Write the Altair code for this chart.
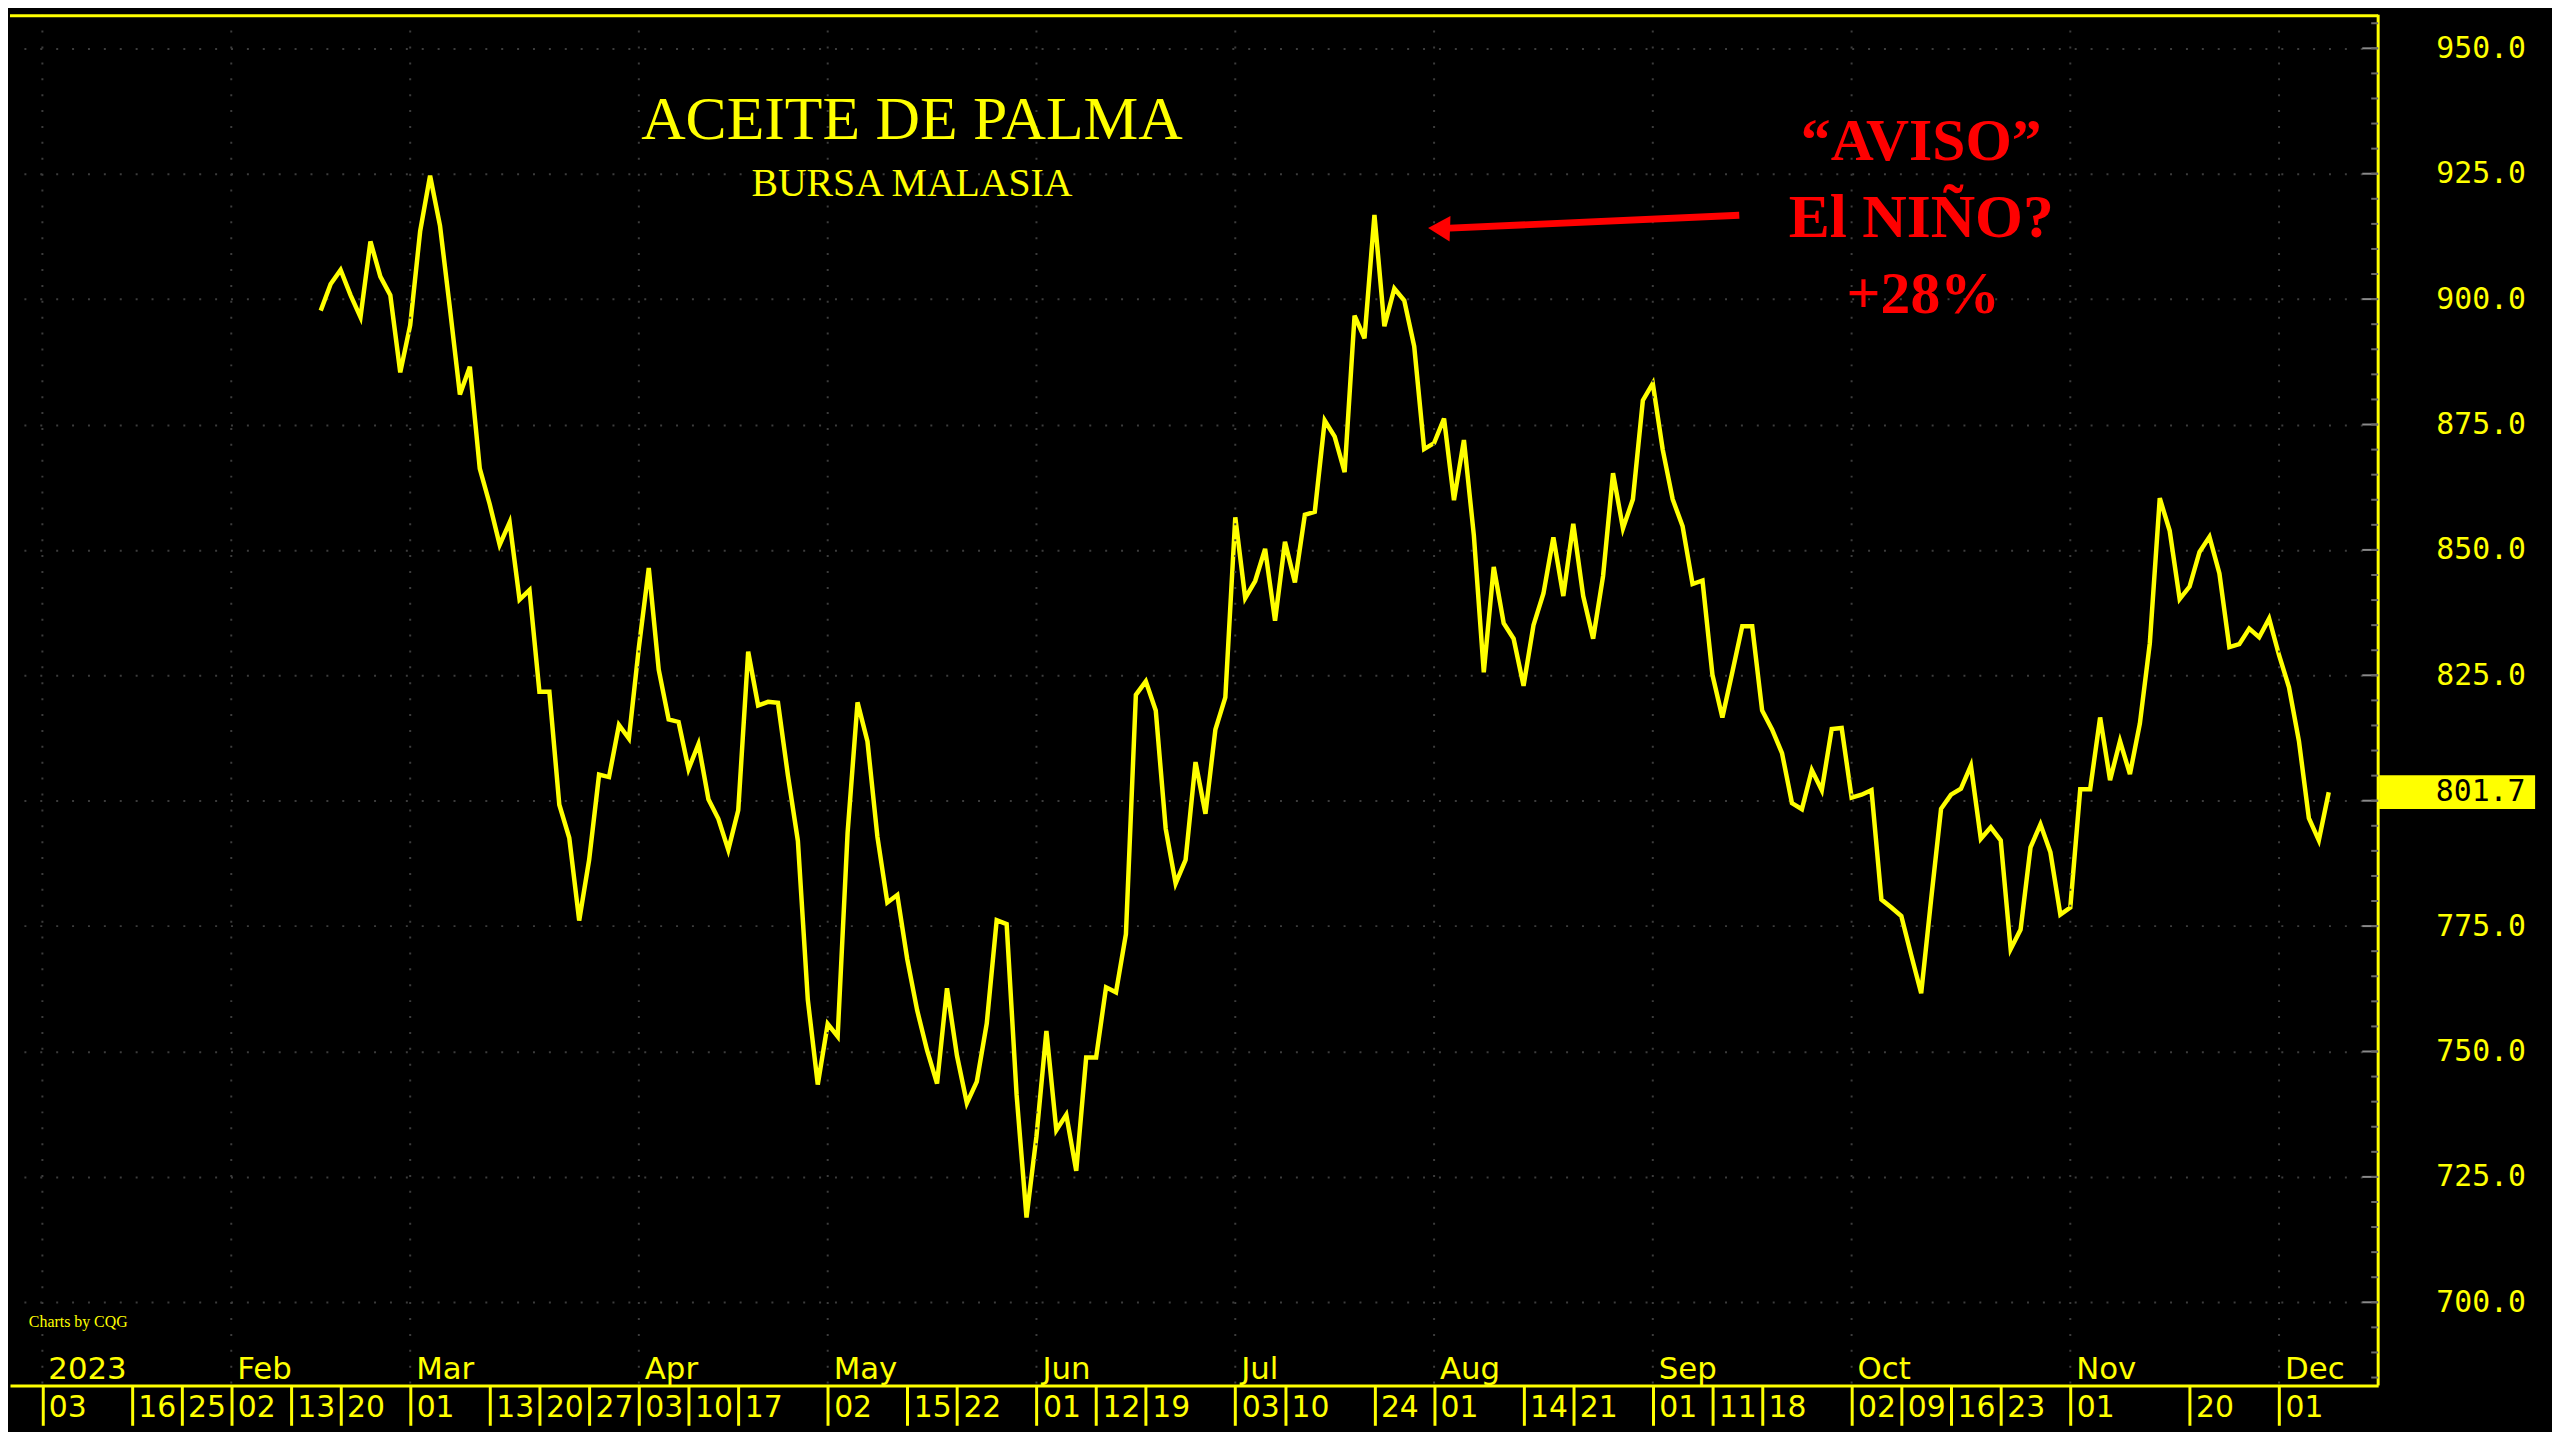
import altair as alt
import pandas as pd

# ---------------- data ----------------
# trading-day index of the first price (0 = 03 Jan 2023)
start_index = 28
prices = [
    897.7, 903.0, 905.8, 900.8, 896.4, 911.5, 904.5, 900.8, 885.4, 894.8,
    913.5, 924.6, 914.6, 898.1, 881.0, 886.5, 866.2, 859.1, 851.0, 855.5,
    840.1, 842.0, 821.7, 821.7, 799.2, 792.6, 776.1, 788.2, 805.2, 804.7,
    815.1, 812.4, 830.5, 846.4, 826.1, 816.2, 815.7, 806.3, 811.3, 800.3,
    796.4, 790.2, 798.1, 829.7, 819.0, 819.7, 819.5, 805.0, 792.0, 760.3,
    743.4, 755.5, 753.0, 793.6, 819.6, 811.8, 792.8, 779.7, 781.2, 768.4,
    758.2, 750.2, 743.6, 762.6, 749.2, 739.7, 744.0, 755.6, 776.2, 775.4,
    741.4, 716.9, 733.1, 754.1, 734.3, 737.4, 726.2, 748.8, 748.8, 762.8,
    761.8, 773.4, 821.1, 823.8, 818.0, 794.4, 783.5, 788.2, 807.7, 797.4,
    814.2, 820.6, 856.5, 840.4, 843.8, 850.2, 835.9, 851.6, 843.5, 857.0,
    857.6, 875.8, 872.6, 865.5, 896.7, 892.2, 916.8, 894.6, 902.1, 899.7,
    890.6, 870.1, 871.3, 876.2, 859.9, 871.9, 852.9, 825.6, 846.6, 835.4,
    832.3, 822.9, 835.0, 841.3, 852.5, 840.8, 855.2, 840.8, 832.3, 844.8,
    865.3, 854.3, 860.1, 879.8, 883.2, 870.0, 860.1, 854.7, 843.2, 843.9,
    825.1, 816.6, 825.6, 834.8, 834.8, 818.0, 814.2, 809.5, 799.5, 798.3,
    806.1, 802.1, 814.3, 814.5, 800.6, 801.2, 802.1, 780.3, 778.7, 777.0,
    769.2, 761.6, 780.3, 798.4, 801.2, 802.4, 807.0, 792.4, 794.7, 792.1,
    770.4, 774.3, 790.7, 795.3, 789.7, 777.3, 778.7, 802.3, 802.3, 816.6,
    804.1, 811.9, 805.3, 815.4, 831.4, 860.3, 853.8, 840.2, 842.7, 849.6,
    852.6, 845.3, 830.6, 831.2, 834.3, 832.6, 836.3, 829.0, 822.6, 811.9,
    796.5, 792.1, 801.7,
]

# day labels of the bottom axis (trading-day index and text)
day_idx = [0, 9, 14, 19, 25, 30, 37, 45, 50, 55, 60, 65, 70, 79, 87, 92, 100,
           106, 111, 120, 125, 134, 140, 149, 154, 162, 168, 173, 182, 187,
           192, 197, 204, 216, 225]
day_lbl = ["03", "16", "25", "02", "13", "20", "01", "13", "20", "27", "03",
           "10", "17", "02", "15", "22", "01", "12", "19", "03", "10", "24",
           "01", "14", "21", "01", "11", "18", "02", "09", "16", "23", "01",
           "20", "01"]

# month labels (first trading day of each month)
month_idx = [0, 19, 37, 60, 79, 100, 120, 140, 162, 182, 204, 225]
month_lbl = ["2023", "Feb", "Mar", "Apr", "May", "Jun", "Jul", "Aug", "Sep",
             "Oct", "Nov", "Dec"]

# price axis
y_ticks = [700, 725, 750, 775, 800, 825, 850, 875, 900, 925, 950]
y_minor = list(range(685, 956, 5))

# annotation arrow (trading-day index, price)
arrow_from = [170.7, 916.7]
arrow_to = [140.2, 914.1]

title = "ACEITE DE PALMA"
subtitle = "BURSA MALASIA"
note_lines = ["\u201cAVISO\u201d", "El NI\u00d1O?", "+28%"]
credit = "Charts by CQG"

# ---------------- chart ----------------
W, H = 2384, 1380
YELLOW = "#FFFF00"
RED = "#FF0000"
GRID = "#3c3c3c"

xs = alt.Scale(domain=[-3.26, 234.97], nice=False, zero=False)
ys = alt.Scale(domain=[683.4, 956.7], nice=False, zero=False)

df = pd.DataFrame({"i": list(range(start_index, start_index + len(prices))),
                   "p": prices})
months = pd.DataFrame({"i": month_idx, "lbl": month_lbl})

idx_js = "[" + ",".join(str(v) for v in day_idx) + "]"
lbl_js = "[" + ",".join("'" + s + "'" for s in day_lbl) + "]"

x_axis = alt.Axis(
    values=day_idx,
    labelExpr=f"{lbl_js}[indexof({idx_js}, datum.value)]",
    labelAlign="left", labelBaseline="top", labelOffset=6, labelPadding=-33,
    labelFont="DejaVu Sans", labelFontSize=30, labelColor=YELLOW,
    labelFlush=False, labelOverlap=False, labelBound=False,
    ticks=True, tickSize=40, tickWidth=3, tickColor=YELLOW,
    domain=True, domainColor=YELLOW, domainWidth=3,
    grid=False, title=None,
)
y_axis = alt.Axis(
    orient="right", values=y_ticks,
    labelExpr="datum.value == 800 ? '' : format(datum.value, '.1f')",
    labelFont="DejaVu Sans Mono", labelFontSize=30, labelColor=YELLOW,
    labelPadding=58, ticks=False, tickSize=0, domain=False,
    grid=True, gridColor=GRID, gridDash=[2, 14], gridWidth=2, title=None,
    labelOverlap=False, labelFlush=False,
)


def X(field):
    return alt.X(field, scale=xs, axis=x_axis)


def Y(field):
    return alt.Y(field, scale=ys, axis=y_axis)


line = alt.Chart(df).mark_line(color=YELLOW, strokeWidth=4.5).encode(
    x=X("i:Q"), y=Y("p:Q"))

vgrid = alt.Chart(months).mark_rule(
    color=GRID, strokeDash=[2, 14], strokeWidth=2
).encode(x=X("i:Q"))

month_text = alt.Chart(months).mark_text(
    align="left", baseline="alphabetic", dx=6, font="DejaVu Sans",
    fontSize=31, color=YELLOW
).encode(x=X("i:Q"), y=alt.value(H - 7), text="lbl:N")

one = pd.DataFrame({"k": [0]})
top_border = alt.Chart(one).mark_rule(color=YELLOW, strokeWidth=3).encode(
    x=alt.value(0), x2=alt.value(W), y=alt.value(1))
right_border = alt.Chart(one).mark_rule(color=YELLOW, strokeWidth=3).encode(
    x=alt.value(W), y=alt.value(0), y2=alt.value(H))

major = pd.DataFrame({"p": y_ticks})
minor = pd.DataFrame({"p": y_minor})
major_ticks = alt.Chart(major).mark_rule(color="#8a8a8a", strokeWidth=2).encode(
    y=Y("p:Q"), x=alt.value(W - 16), x2=alt.value(W))
minor_ticks = alt.Chart(minor).mark_rule(color="#6a6a6a", strokeWidth=2).encode(
    y=Y("p:Q"), x=alt.value(W - 7), x2=alt.value(W))

last = pd.DataFrame({"p": [prices[-1]], "t": [f"{prices[-1]:.1f}"]})
last_box = alt.Chart(last).mark_rule(color=YELLOW, strokeWidth=34).encode(
    y=Y("p:Q"), x=alt.value(W + 1), x2=alt.value(W + 158))
last_text = alt.Chart(last).mark_text(
    align="left", baseline="middle", font="DejaVu Sans Mono", fontSize=30,
    color="black"
).encode(y=Y("p:Q"), x=alt.value(W + 58), text="t:N")


def label(txt, x, y, size, color, weight="normal", font="Liberation Serif",
          align="center"):
    return alt.Chart(one).mark_text(
        text=txt, font=font, fontSize=size, fontWeight=weight, color=color,
        align=align, baseline="alphabetic"
    ).encode(x=alt.value(x), y=alt.value(y))


title_t = label(title, 908, 125, 62, YELLOW)
sub_t = label(subtitle, 908, 182, 40, YELLOW)
n1 = label(note_lines[0], 1924, 146, 60, RED, "bold")
n2 = label(note_lines[1], 1924, 224, 62, RED, "bold")
n3 = label(note_lines[2], 1926, 300, 60, RED, "bold")
credit_t = label(credit, 19, 1321, 16, YELLOW, align="left")

arrow_df = pd.DataFrame({"i": [arrow_from[0]], "p": [arrow_from[1]],
                         "i2": [arrow_to[0] + 0.8], "p2": [arrow_to[1]]})
arrow_line = alt.Chart(arrow_df).mark_rule(color=RED, strokeWidth=7).encode(
    x=X("i:Q"), y=Y("p:Q"), x2="i2:Q", y2="p2:Q")
head_df = pd.DataFrame({"i": [arrow_to[0] + 0.3], "p": [arrow_to[1]]})
arrow_head = alt.Chart(head_df).mark_point(
    shape="triangle-left", filled=True, size=650, color=RED, opacity=1,
    angle=2
).encode(x=X("i:Q"), y=Y("p:Q"))

chart = alt.layer(
    line, vgrid, month_text, top_border, right_border, major_ticks,
    minor_ticks, last_box, last_text, title_t, sub_t, n1, n2, n3, credit_t,
    arrow_line, arrow_head,
).properties(
    width=W, height=H, padding=0, background="black"
).configure_view(stroke=None)

chart.save("out.html", embed_options={"renderer": "svg", "actions": False})
